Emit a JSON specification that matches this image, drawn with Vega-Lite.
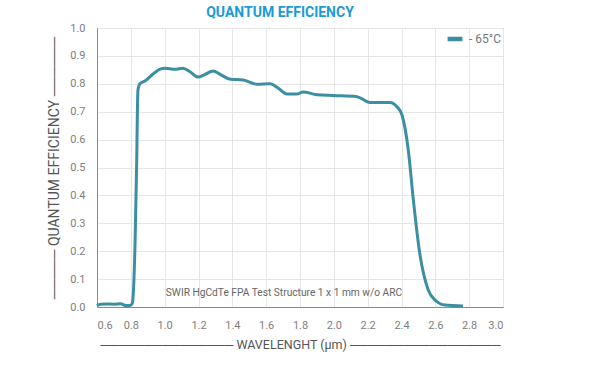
{
  "$schema": "https://vega.github.io/schema/vega-lite/v6.json",
  "width": 406,
  "height": 279,
  "autosize": "none",
  "padding": {"left": 97, "top": 28, "right": 99, "bottom": 45},
  "background": "white",
  "title": {
    "text": "QUANTUM EFFICIENCY",
    "anchor": "middle",
    "dx": -20,
    "offset": 2,
    "font": "Roboto",
    "fontSize": 14,
    "fontWeight": "bold",
    "color": "#1b9ad6"
  },
  "config": {
    "view": {"stroke": "#8a8a8a", "strokeWidth": 1},
    "axis": {
      "labelFont": "Roboto",
      "labelFontSize": 11,
      "labelColor": "#808080",
      "labelOverlap": false,
      "titleFont": "Roboto",
      "titleFontSize": 12.5,
      "titleFontWeight": "normal",
      "titleColor": "#555555",
      "gridColor": "#e6e6e6",
      "domainColor": "#8a8a8a",
      "ticks": false
    }
  },
  "layer": [
    {
      "data": {
        "values": [
          {"wl": 0.6, "qe": 0.005, "s": "- 65°C"},
          {"wl": 0.62, "qe": 0.01, "s": "- 65°C"},
          {"wl": 0.66, "qe": 0.011, "s": "- 65°C"},
          {"wl": 0.7, "qe": 0.01, "s": "- 65°C"},
          {"wl": 0.74, "qe": 0.012, "s": "- 65°C"},
          {"wl": 0.77, "qe": 0.005, "s": "- 65°C"},
          {"wl": 0.795, "qe": 0.005, "s": "- 65°C"},
          {"wl": 0.809, "qe": 0.014, "s": "- 65°C"},
          {"wl": 0.825, "qe": 0.23, "s": "- 65°C"},
          {"wl": 0.835, "qe": 0.53, "s": "- 65°C"},
          {"wl": 0.838, "qe": 0.67, "s": "- 65°C"},
          {"wl": 0.842, "qe": 0.778, "s": "- 65°C"},
          {"wl": 0.854, "qe": 0.80, "s": "- 65°C"},
          {"wl": 0.884, "qe": 0.81, "s": "- 65°C"},
          {"wl": 0.931, "qe": 0.835, "s": "- 65°C"},
          {"wl": 0.97, "qe": 0.852, "s": "- 65°C"},
          {"wl": 1.002, "qe": 0.856, "s": "- 65°C"},
          {"wl": 1.061, "qe": 0.852, "s": "- 65°C"},
          {"wl": 1.108, "qe": 0.856, "s": "- 65°C"},
          {"wl": 1.15, "qe": 0.843, "s": "- 65°C"},
          {"wl": 1.197, "qe": 0.824, "s": "- 65°C"},
          {"wl": 1.24, "qe": 0.834, "s": "- 65°C"},
          {"wl": 1.286, "qe": 0.846, "s": "- 65°C"},
          {"wl": 1.33, "qe": 0.833, "s": "- 65°C"},
          {"wl": 1.39, "qe": 0.816, "s": "- 65°C"},
          {"wl": 1.463, "qe": 0.814, "s": "- 65°C"},
          {"wl": 1.546, "qe": 0.798, "s": "- 65°C"},
          {"wl": 1.623, "qe": 0.80, "s": "- 65°C"},
          {"wl": 1.67, "qe": 0.785, "s": "- 65°C"},
          {"wl": 1.723, "qe": 0.763, "s": "- 65°C"},
          {"wl": 1.782, "qe": 0.763, "s": "- 65°C"},
          {"wl": 1.818, "qe": 0.771, "s": "- 65°C"},
          {"wl": 1.9, "qe": 0.761, "s": "- 65°C"},
          {"wl": 1.995, "qe": 0.758, "s": "- 65°C"},
          {"wl": 2.137, "qe": 0.754, "s": "- 65°C"},
          {"wl": 2.214, "qe": 0.733, "s": "- 65°C"},
          {"wl": 2.332, "qe": 0.733, "s": "- 65°C"},
          {"wl": 2.373, "qe": 0.718, "s": "- 65°C"},
          {"wl": 2.403, "qe": 0.688, "s": "- 65°C"},
          {"wl": 2.44, "qe": 0.563, "s": "- 65°C"},
          {"wl": 2.47, "qe": 0.384, "s": "- 65°C"},
          {"wl": 2.505, "qe": 0.204, "s": "- 65°C"},
          {"wl": 2.558, "qe": 0.061, "s": "- 65°C"},
          {"wl": 2.598, "qe": 0.025, "s": "- 65°C"},
          {"wl": 2.657, "qe": 0.007, "s": "- 65°C"},
          {"wl": 2.764, "qe": 0.004, "s": "- 65°C"}
        ]
      },
      "mark": {"type": "line", "interpolate": "monotone", "strokeWidth": 3, "color": "#3a8fa2"},
      "encoding": {
        "x": {
          "field": "wl", "type": "quantitative",
          "scale": {"domain": [0.6, 3.0], "nice": false, "zero": false},
          "axis": {
            "values": [0.6, 0.8, 1.0, 1.2, 1.4, 1.6, 1.8, 2.0, 2.2, 2.4, 2.6, 2.8, 3.0],
            "tickCount": 13,
            "format": ".1f",
            "labelPadding": 12,
            "title": "───────────────  WAVELENGHT (µm)  ─────────────────",
            "titlePadding": 8
          }
        },
        "y": {
          "field": "qe", "type": "quantitative",
          "scale": {"domain": [0, 1], "nice": false},
          "axis": {
            "values": [0, 0.1, 0.2, 0.3, 0.4, 0.5, 0.6, 0.7, 0.8, 0.9, 1.0],
            "tickCount": 11,
            "format": ".1f",
            "labelPadding": 12,
            "title": "─────  QUANTUM EFFICIENCY  ──────",
            "titleFontSize": 14,
            "titlePadding": 8
          }
        },
        "color": {
          "field": "s", "type": "nominal",
          "scale": {"range": ["#3a8fa2"]},
          "legend": {
            "title": null,
            "orient": "top-right",
            "symbolType": "stroke",
            "symbolStrokeWidth": 4.5,
            "symbolSize": 220,
            "labelFont": "Roboto",
            "labelFontSize": 12,
            "labelColor": "#777777",
            "offset": 1,
            "padding": 0
          }
        }
      }
    },
    {
      "data": {"values": [{"wl": 1.705, "qe": 0.05, "t": "SWIR HgCdTe FPA Test Structure 1 x 1 mm w/o ARC"}]},
      "mark": {"type": "text", "font": "Roboto", "fontSize": 10.2, "color": "#666666", "align": "center", "baseline": "middle"},
      "encoding": {
        "x": {"field": "wl", "type": "quantitative"},
        "y": {"field": "qe", "type": "quantitative"},
        "text": {"field": "t"}
      }
    }
  ]
}
